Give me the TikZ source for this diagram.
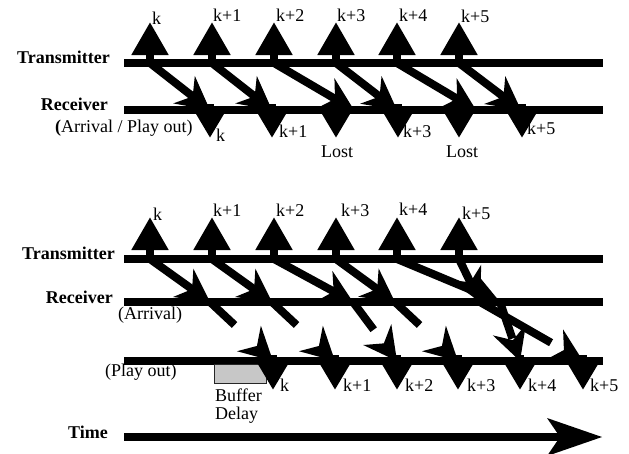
\documentclass[tikz,border=0pt]{standalone}
\usepackage{fontspec}
\setmainfont{Liberation Serif}
\usetikzlibrary{arrows.meta,calc}
% filled stealth head: #1 = from, #2 = tip, #3 = length, #4 = half width, #5 = inset depth
\newcommand\stealthhead[5]{%
  \path ($(#2)!#3!(#1)$) coordinate (hbk);
  \fill (#2) -- ($(hbk)!#4!90:(#2)$) -- ($(#2)!#5!(#1)$) -- ($(hbk)!#4!-90:(#2)$) -- cycle;
}
% packet connector: shaft plus head
\newcommand\pktconn[2]{%
  \draw[pktline] (#1) -- ($(#2)!20pt!(#1)$);
  \stealthhead{#1}{#2}{33pt}{17.5pt}{22pt}%
}
\begin{document}
\begin{tikzpicture}[x=1pt,y=-1pt,
  lane/.style={line width=8.5pt},
  sendarrow/.style={line width=8pt,-{Triangle[length=33pt,width=35pt]}},
  playarrow/.style={line width=8pt,-{Triangle[length=32pt,width=35pt]}},
  pktline/.style={line width=8pt},
  lbl/.style={font=\fontsize{18}{20}\selectfont, inner sep=0pt},
  hdr/.style={font=\bfseries\fontsize{18}{20}\selectfont, inner sep=0pt},
  bufbox/.style={draw=black!85, line width=1.3pt, fill=black!22, inner sep=0pt,
    minimum width=52pt, minimum height=19pt, anchor=north west},
]
\useasboundingbox (0,0) rectangle (629,453);

% ---------- top diagram ----------
\coordinate (txTL) at (124,63);  \coordinate (txTR) at (603,63);
\coordinate (rxTL) at (124,110); \coordinate (rxTR) at (603,110);
\draw[lane] (txTL) -- (txTR);
\draw[lane] (rxTL) -- (rxTR);

\foreach \n/\tx/\ar/\pl in {0/150/210/210,1/212/272/272,2/274/354/336,3/336/397/398,4/397/476/459,5/459/521/522}{
  \coordinate (ts\n) at (\tx,63);
  \coordinate (tu\n) at (\tx,22);
  \coordinate (ta\n) at (\ar,110);
  \coordinate (tp\n) at (\pl,104);
  \coordinate (tq\n) at (\pl,138);
}
\foreach \n in {0,...,5}{
  \draw[sendarrow] (ts\n) -- (tu\n);
  \draw[playarrow] (tp\n) -- (tq\n);
  \pktconn{ts\n}{ta\n}
}

\node[hdr, anchor=base east] (lTx1) at (110,63) {Transmitter};
\node[hdr, anchor=base east] (lRx1) at (108,110) {Receiver};
\node[lbl, anchor=base west] (lAP) at (55,132) {{\bfseries(}Arrival / Play out)};

\node[lbl, anchor=base west] (s0) at (152,24) {k};
\node[lbl, anchor=base west] (s1) at (213,21) {k+1};
\node[lbl, anchor=base west] (s2) at (276,21) {k+2};
\node[lbl, anchor=base west] (s3) at (337,21) {k+3};
\node[lbl, anchor=base west] (s4) at (399,21) {k+4};
\node[lbl, anchor=base west] (s5) at (461,22) {k+5};

\node[lbl, anchor=base west] (r0) at (216,141) {k};
\node[lbl, anchor=base west] (r1) at (279,137) {k+1};
\node[lbl, anchor=base] (r2) at (337,157) {Lost};
\node[lbl, anchor=base west] (r3) at (403,137) {k+3};
\node[lbl, anchor=base] (r4) at (462,157) {Lost};
\node[lbl, anchor=base west] (r5) at (527,134) {k+5};

% ---------- bottom diagram ----------
\coordinate (txBL) at (124,259); \coordinate (txBR) at (603,259);
\coordinate (rxBL) at (124,302); \coordinate (rxBR) at (603,302);
\coordinate (poBL) at (124,361); \coordinate (poBR) at (603,361);
\coordinate (tmL) at (124,437);  \coordinate (tmR) at (602,437);
\draw[lane] (txBL) -- (txBR);
\draw[lane] (rxBL) -- (rxBR);
\draw[lane] (poBL) -- (poBR);
\draw[pktline] (tmL) -- ($(tmR)!40pt!(tmL)$);
\stealthhead{tmL}{tmR}{55pt}{19pt}{42pt}

\node[bufbox] (buf) at (214,364) {};

\foreach \n/\tx/\ar/\pl/\f in {0/150/210/273/0.39,1/212/272/335/0.39,2/274/353/397/0.47,3/336/395/458/0.39,4/397/500/520/0.62,5/459/480/583/0.69}{
  \coordinate (bs\n) at (\tx,259);
  \coordinate (bu\n) at (\tx,217);
  \coordinate (ba\n) at (\ar,302);
  \coordinate (bp\n) at (\pl,361);
  \coordinate (be\n) at ($(ba\n)!\f!(bp\n)$);
  \coordinate (bd\n) at (\pl,355);
  \coordinate (bq\n) at (\pl,390);
}
\foreach \n in {0,...,5}{
  \draw[sendarrow] (bs\n) -- (bu\n);
  \draw[pktline] (ba\n) -- (be\n);
  \pktconn{bs\n}{ba\n}
  \stealthhead{ba\n}{bp\n}{33pt}{17.5pt}{22pt}
  \draw[playarrow] (bd\n) -- (bq\n);
}

\node[hdr, anchor=base east] (lTx2) at (115,259) {Transmitter};
\node[hdr, anchor=base east] (lRx2) at (113,303) {Receiver};
\node[lbl, anchor=base west] (lAr) at (118,319) {(Arrival)};
\node[lbl, anchor=base west] (lPo) at (105,376) {(Play out)};
\node[lbl, anchor=base west] (lBu) at (215,401) {Buffer};
\node[lbl, anchor=base west] (lDe) at (215,419) {Delay};
\node[hdr, anchor=base east] (lTi) at (108,438) {Time};

\node[lbl, anchor=base west] (u0) at (153,220) {k};
\node[lbl, anchor=base west] (u1) at (213,216) {k+1};
\node[lbl, anchor=base west] (u2) at (276,216) {k+2};
\node[lbl, anchor=base west] (u3) at (341,216) {k+3};
\node[lbl, anchor=base west] (u4) at (399,215) {k+4};
\node[lbl, anchor=base west] (u5) at (462,219) {k+5};

\node[lbl, anchor=base west] (v0) at (280,391) {k};
\node[lbl, anchor=base west] (v1) at (343,391) {k+1};
\node[lbl, anchor=base west] (v2) at (405,391) {k+2};
\node[lbl, anchor=base west] (v3) at (467,391) {k+3};
\node[lbl, anchor=base west] (v4) at (528,391) {k+4};
\node[lbl, anchor=base west] (v5) at (590,391) {k+5};
\end{tikzpicture}
\end{document}
